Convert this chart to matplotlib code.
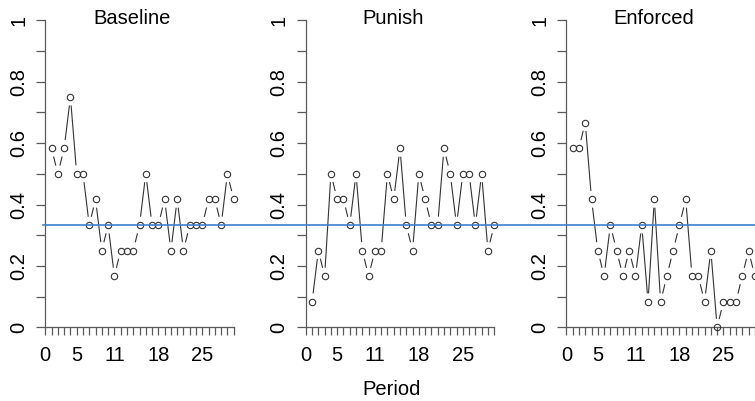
import numpy as np
import matplotlib.pyplot as plt
import matplotlib.transforms as mtransforms
from matplotlib.lines import Line2D

plt.rcParams['font.family'] = ['Liberation Sans', 'DejaVu Sans']
plt.rcParams['font.size'] = 14.5

# Datos (proporcion por periodo)
period = np.arange(1, 31)
baseline = [0.583, 0.5, 0.583, 0.75, 0.5, 0.5, 0.333, 0.417, 0.25, 0.333,
            0.167, 0.25, 0.25, 0.25, 0.333, 0.5, 0.333, 0.333, 0.417, 0.25,
            0.417, 0.25, 0.333, 0.333, 0.333, 0.417, 0.417, 0.333, 0.5, 0.417]
punish = [0.083, 0.25, 0.167, 0.5, 0.417, 0.417, 0.333, 0.5, 0.25, 0.167,
          0.25, 0.25, 0.5, 0.417, 0.583, 0.333, 0.25, 0.5, 0.417, 0.333,
          0.333, 0.583, 0.5, 0.333, 0.5, 0.5, 0.333, 0.5, 0.25, 0.333]
enforced = [0.583, 0.583, 0.667, 0.417, 0.25, 0.167, 0.333, 0.25, 0.167, 0.25,
            0.167, 0.333, 0.083, 0.417, 0.083, 0.167, 0.25, 0.333, 0.417, 0.167,
            0.167, 0.083, 0.25, 0.0, 0.083, 0.083, 0.083, 0.167, 0.25, 0.167]
titles = ['Baseline', 'Punish', 'Enforced']
series = [baseline, punish, enforced]
chance = 1 / 3

xtick_labels = {0: '0', 5: '5', 11: '11', 18: '18', 25: '25'}
ytick_labels = {0: '0', 2: '0.2', 4: '0.4', 6: '0.6', 8: '0.8', 10: '1'}

W, H = 755, 401
fig = plt.figure(figsize=(W / 100, H / 100), dpi=100)

# geometria en pixeles (estilo R, par(mfrow=c(1,3)))
x0 = [45.3, 305.8, 566.4]
unit = 6.28
y0, yscale = 327.3, 307.0
gap = 9.0  # hueco alrededor de los puntos, como type="b"
axcol = '#5a5a5a'

axes = []
for k in range(3):
    left = x0[k] - 1.2 * unit
    width = 32.4 * unit
    bottom = y0 + 0.04 * yscale
    height = 1.08 * yscale
    ax = fig.add_axes([left / W, (H - bottom) / H, width / W, height / H])
    ax.set_xlim(-1.2, 31.2)
    ax.set_ylim(-0.04, 1.04)
    ax.patch.set_alpha(0)
    for s in ['top', 'right']:
        ax.spines[s].set_visible(False)
    for s in ['left', 'bottom']:
        ax.spines[s].set_position(('data', 0))
        ax.spines[s].set_color(axcol)
        ax.spines[s].set_linewidth(0.9)
    ax.spines['left'].set_bounds(0, 1)
    ax.spines['bottom'].set_bounds(0, 30)

    ax.set_xticks(np.arange(0, 31))
    ax.set_xticklabels([xtick_labels.get(i, '') for i in range(31)])
    ax.set_yticks(np.arange(0, 11) / 10)
    ax.set_yticklabels([ytick_labels.get(i, '') for i in range(11)])
    ax.tick_params(axis='x', length=5.8, width=0.9, color=axcol, pad=7.5)
    ax.tick_params(axis='y', length=6.8, width=0.9, color=axcol, pad=5.5)
    for lab in ax.get_yticklabels():
        lab.set_rotation(90)
        lab.set_va('center')

    vals = series[k]
    ax.plot(period, vals, 'o', mfc='none', mec='#333333', ms=4.6, mew=0.8,
            clip_on=False, zorder=3)

    # segmentos recortados cerca de cada punto
    pts = ax.transData.transform(np.column_stack([period, vals]))
    inv = ax.transData.inverted()
    for i in range(len(pts) - 1):
        p, q = pts[i], pts[i + 1]
        d = q - p
        L = np.hypot(*d)
        if L <= 2 * gap:
            continue
        u = d / L
        seg = inv.transform(np.array([p + u * gap, q - u * gap]))
        ax.plot(seg[:, 0], seg[:, 1], color='#333333', lw=0.8,
                clip_on=False, zorder=2)

    fig.text((x0[k] + 87) / W, (H - 24) / H, titles[k],
             ha='center', va='baseline')
    axes.append(ax)

# linea horizontal de referencia que cruza los tres paneles
tr = mtransforms.blended_transform_factory(fig.transFigure, axes[0].transData)
fig.add_artist(Line2D([43 / W, 1.0], [chance, chance], transform=tr,
                      color='#3f7fcf', lw=1.2, zorder=5))

fig.text(392 / W, (H - 395) / H, 'Period', ha='center', va='baseline')

fig.savefig('out.png', dpi=100)
